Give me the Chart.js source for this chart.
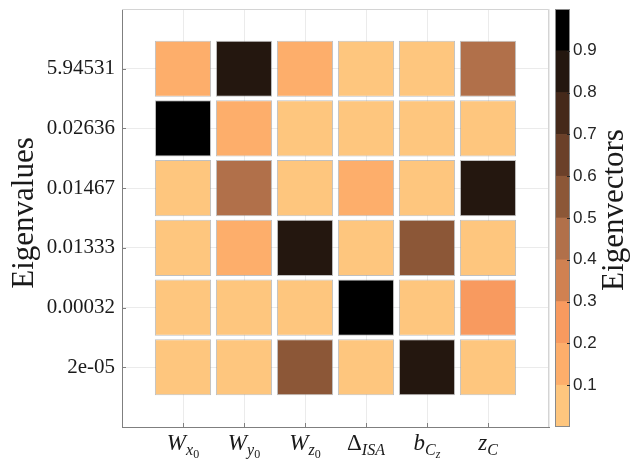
<!DOCTYPE html>
<html>
<head>
<meta charset="utf-8">
<script src="https://cdn.jsdelivr.net/npm/chart.js@4"></script>
<style>
  body { margin: 0; background: #fff; }
  #wrap { position: relative; width: 632px; height: 459px; }
  canvas { position: absolute; top: 0; }
</style>
</head>
<body>
<div id="wrap">
  <canvas id="heat" width="552" height="459" style="left:0"></canvas>
  <canvas id="cbar" width="92" height="459" style="left:540px"></canvas>
</div>
<script>
// eigenvalues, top row first
const eigenvalues = ["5.94531", "0.02636", "0.01467", "0.01333", "0.00032", "2e-05"];
// parameter names: base symbol, subscript, sub-subscript
const paramBase = ["W", "W", "W", "Δ", "b", "z"];
const paramSub = ["x", "y", "z", "ISA", "C", "C"];
const paramSubSub = ["0", "0", "0", "", "z", ""];

// |eigenvector components| per eigenvalue
const vec1 = [0.16, 0.86, 0.17, 0.04, 0.05, 0.44];
const vec2 = [0.97, 0.18, 0.06, 0.03, 0.05, 0.08];
const vec3 = [0.06, 0.45, 0.05, 0.15, 0.04, 0.88];
const vec4 = [0.03, 0.16, 0.87, 0.07, 0.53, 0.06];
const vec5 = [0.02, 0.03, 0.05, 0.99, 0.02, 0.27];
const vec6 = [0.01, 0.04, 0.51, 0.02, 0.85, 0.05];
const vectors = [vec1, vec2, vec3, vec4, vec5, vec6];

// colorbar levels 0..1, 10 bands
const cbarTicks = [0.1, 0.2, 0.3, 0.4, 0.5, 0.6, 0.7, 0.8, 0.9];
const cmap = ["#fec67e", "#fdae6b", "#f89a5f", "#d08151", "#b1704a",
              "#8c5737", "#6b4029", "#45291a", "#24170f", "#000000"];

const colorFor = v => cmap[Math.min(cmap.length - 1, Math.floor(v * cmap.length))];

const serif = '"Liberation Serif", "DejaVu Serif", serif';
const textCol = "#1a1a1a";

const datasets = vectors.map((vec, r) => {
  const yc = eigenvalues.length - r;
  return {
    label: eigenvalues[r],
    data: vec.map((v, c) => ({ x: c + 1, y: [yc - 0.47, yc + 0.47] })),
    backgroundColor: vec.map(colorFor),
    borderColor: "rgba(140,140,140,0.55)",
    borderWidth: 1,
    borderSkipped: false,
    barPercentage: 0.92,
    categoryPercentage: 1,
  };
});

const heatExtras = {
  id: "heatExtras",
  afterDraw(chart) {
    const { ctx, chartArea: a, scales } = chart;
    ctx.save();
    // light top/right frame
    ctx.strokeStyle = "#d4d4d4";
    ctx.lineWidth = 1;
    ctx.beginPath();
    ctx.moveTo(a.left, a.top + 0.5);
    ctx.lineTo(a.right - 0.5, a.top + 0.5);
    ctx.lineTo(a.right - 0.5, a.bottom);
    ctx.stroke();
    // inward ticks
    ctx.strokeStyle = "#7f7f7f";
    ctx.beginPath();
    for (let i = 1; i <= 6; i++) {
      const py = Math.round(scales.y.getPixelForValue(i)) + 0.5;
      ctx.moveTo(a.left, py);
      ctx.lineTo(a.left + 4, py);
      const px = Math.round(scales.x.getPixelForValue(i)) + 0.5;
      ctx.moveTo(px, a.bottom);
      ctx.lineTo(px, a.bottom - 4);
    }
    ctx.stroke();

    // y title
    ctx.save();
    ctx.translate(25, (a.top + a.bottom) / 2 - 5);
    ctx.rotate(-Math.PI / 2);
    ctx.fillStyle = textCol;
    ctx.font = "31px " + serif;
    ctx.textAlign = "center";
    ctx.textBaseline = "middle";
    ctx.fillText("Eigenvalues", 0, 0);
    ctx.restore();

    // x labels with subscripts
    ctx.fillStyle = textCol;
    ctx.textBaseline = "alphabetic";
    ctx.textAlign = "left";
    const fBase = i => (paramBase[i] === "Δ" ? "" : "italic ") + "23px " + serif;
    const fSub = "italic 16px " + serif;
    const fSubSub = s => (/\d/.test(s) ? "" : "italic ") + "12px " + serif;
    const base = 450;
    paramBase.forEach((b, i) => {
      ctx.font = fBase(i);
      const w1 = ctx.measureText(b).width;
      ctx.font = fSub;
      const w2 = ctx.measureText(paramSub[i]).width;
      ctx.font = fSubSub(paramSubSub[i]);
      const w3 = ctx.measureText(paramSubSub[i]).width;
      const total = w1 + w2 + w3;
      let x = scales.x.getPixelForValue(i + 1) - total / 2;
      ctx.font = fBase(i);
      ctx.fillText(b, x, base);
      x += w1;
      ctx.font = fSub;
      ctx.fillText(paramSub[i], x, base + 5);
      x += w2;
      ctx.font = fSubSub(paramSubSub[i]);
      ctx.fillText(paramSubSub[i], x, base + 8);
    });
    ctx.restore();
  },
};

new Chart(document.getElementById("heat"), {
  type: "bar",
  data: { datasets },
  options: {
    responsive: false,
    animation: false,
    events: [],
    layout: { padding: { left: 0, top: 9, right: 3, bottom: 0 } },
    plugins: { legend: { display: false }, tooltip: { enabled: false } },
    scales: {
      x: {
        type: "linear",
        stacked: true,
        offset: false,
        min: 0,
        max: 7,
        ticks: { display: false, stepSize: 1 },
        grid: { color: "#ebebeb", drawTicks: false, offset: false },
        border: { color: "#7f7f7f" },
        afterFit: s => { s.height = 32; s.paddingLeft = 0; s.paddingRight = 0; },
      },
      y: {
        type: "linear",
        min: 0,
        max: 7,
        ticks: {
          stepSize: 1,
          padding: 7,
          color: textCol,
          font: { family: serif, size: 21 },
          callback: v => (v >= 1 && v <= 6 ? eigenvalues[6 - v] : ""),
        },
        grid: { color: "#ebebeb", drawTicks: false },
        border: { color: "#7f7f7f" },
        afterFit: s => { s.width = 122; s.paddingTop = 0; s.paddingBottom = 0; },
      },
    },
  },
  plugins: [heatExtras],
});

// colorbar
const cbarExtras = {
  id: "cbarExtras",
  afterDraw(chart) {
    const { ctx, chartArea: a, scales } = chart;
    ctx.save();
    ctx.strokeStyle = "#8a8a8a";
    ctx.lineWidth = 1;
    ctx.strokeRect(a.left + 0.5, a.top + 0.5, a.right - a.left - 1, a.bottom - a.top - 1);
    ctx.strokeStyle = "#262626";
    ctx.beginPath();
    cbarTicks.forEach(t => {
      const py = Math.round(scales.y.getPixelForValue(t)) + 0.5;
      ctx.moveTo(a.right, py);
      ctx.lineTo(a.right - 3, py);
    });
    ctx.stroke();
    ctx.translate(75, (a.top + a.bottom) / 2 - 8);
    ctx.rotate(-Math.PI / 2);
    ctx.fillStyle = textCol;
    ctx.font = "31px " + serif;
    ctx.textAlign = "center";
    ctx.textBaseline = "middle";
    ctx.fillText("Eigenvectors", 0, 0);
    ctx.restore();
  },
};

new Chart(document.getElementById("cbar"), {
  type: "bar",
  data: {
    labels: [""],
    datasets: cmap.map(c => ({
      data: [1 / cmap.length],
      backgroundColor: c,
      barPercentage: 1,
      categoryPercentage: 1,
    })),
  },
  options: {
    responsive: false,
    animation: false,
    events: [],
    layout: { padding: { left: 15, top: 9, right: 0, bottom: 32 } },
    plugins: { legend: { display: false }, tooltip: { enabled: false } },
    scales: {
      x: { display: false, stacked: true },
      y: {
        position: "right",
        stacked: true,
        min: 0,
        max: 1,
        afterBuildTicks: s => { s.ticks = cbarTicks.map(v => ({ value: v })); },
        ticks: {
          padding: 3,
          color: "#262626",
          font: { family: '"Liberation Sans", Arial, sans-serif', size: 17 },
          callback: v => v.toFixed(1),
        },
        grid: { display: false, drawTicks: false },
        border: { display: false },
        afterFit: s => { s.width = 62; s.paddingTop = 0; s.paddingBottom = 0; },
      },
    },
  },
  plugins: [cbarExtras],
});
</script>
</body>
</html>
